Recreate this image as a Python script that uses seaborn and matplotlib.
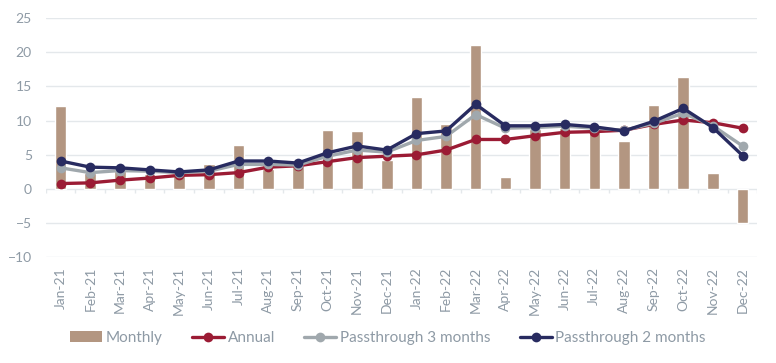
import numpy as np
import pandas as pd
import seaborn as sns
import matplotlib.pyplot as plt
from matplotlib.patches import Patch
from matplotlib.lines import Line2D

# Chart data
months = ["Jan-21", "Feb-21", "Mar-21", "Apr-21", "May-21", "Jun-21",
          "Jul-21", "Aug-21", "Sep-21", "Oct-21", "Nov-21", "Dec-21",
          "Jan-22", "Feb-22", "Mar-22", "Apr-22", "May-22", "Jun-22",
          "Jul-22", "Aug-22", "Sep-22", "Oct-22", "Nov-22", "Dec-22"]
monthly = [12.2, 2.3, 2.7, 2.2, 2.1, 3.6, 6.5, 3.0, 3.3, 8.7, 8.5, 4.3,
           13.4, 9.5, 21.1, 1.8, 8.8, 9.0, 8.6, 7.0, 12.3, 16.4, 2.3, -5.0]
annual = [0.8, 0.9, 1.3, 1.6, 2.0, 2.1, 2.4, 3.2, 3.4, 4.0, 4.6, 4.8,
          5.0, 5.7, 7.25, 7.25, 7.8, 8.3, 8.4, 8.6, 9.45, 10.1, 9.7, 8.9]
pass3 = [3.1, 2.4, 2.7, 2.6, 2.4, 2.6, 3.6, 3.6, 3.5, 4.8, 5.7, 5.4,
         7.1, 7.7, 10.9, 8.9, 9.0, 9.2, 8.9, 8.6, 9.6, 11.1, 9.25, 6.3]
pass2 = [4.1, 3.2, 3.1, 2.8, 2.5, 2.8, 4.1, 4.1, 3.8, 5.3, 6.3, 5.7,
         8.1, 8.5, 12.4, 9.25, 9.25, 9.45, 9.1, 8.5, 9.9, 11.8, 9.0, 4.9]
y_ticks = [-10, -5, 0, 5, 10, 15, 20, 25]

BAR_COLOR = "#b39681"
RED = "#9b1b34"
GREY = "#a0a8ad"
NAVY = "#282b60"
TEXT = "#8e9aa5"
GRID = "#e4e8eb"

sns.set_theme(style="white")
plt.rcParams["font.family"] = ["Lato", "DejaVu Sans"]

df = pd.DataFrame({"month": months, "monthly": monthly, "annual": annual,
                   "pass3": pass3, "pass2": pass2})
df["pos"] = np.arange(len(df))

fig = plt.figure(figsize=(7.76, 3.63), dpi=100)
ax = fig.add_axes([0.059, 0.291, 0.917, 0.659])

sns.barplot(data=df, x="month", y="monthly", color=BAR_COLOR, width=0.39,
            saturation=1, ax=ax, zorder=2)

for col, c in [("annual", RED), ("pass3", GREY), ("pass2", NAVY)]:
    sns.lineplot(data=df, x="pos", y=col, color=c, linewidth=2.4,
                 marker="o", markersize=7, markeredgewidth=0, ax=ax,
                 zorder=3)

ax.set_ylim(-10, 25)
ax.set_xlim(-0.5, len(months) - 0.5)
ax.set_yticks(y_ticks)
ax.set_xticks(range(len(months)))
ax.set_xticklabels(months, rotation=90)
ax.set_xlabel("")
ax.set_ylabel("")
ax.yaxis.grid(True, color=GRID, linewidth=1)
ax.set_axisbelow(True)
for s in ax.spines.values():
    s.set_visible(False)
ax.tick_params(axis="both", length=0, colors=TEXT, labelsize=10)
ax.tick_params(axis="y", pad=10)
ax.tick_params(axis="x", pad=7)

# small category separators hanging under the zero line
bounds = np.arange(len(months) + 1) - 0.5
ax.vlines(bounds, -0.6, 0, color=GRID, linewidth=1, zorder=1)

handles = [
    Patch(facecolor=BAR_COLOR, edgecolor="none"),
    Line2D([], [], color=RED, linewidth=2.4, marker="o", markersize=7, markeredgewidth=0),
    Line2D([], [], color=GREY, linewidth=2.4, marker="o", markersize=7, markeredgewidth=0),
    Line2D([], [], color=NAVY, linewidth=2.4, marker="o", markersize=7, markeredgewidth=0),
]
labels = ["Monthly", "Annual", "Passthrough 3 months", "Passthrough 2 months"]
leg = fig.legend(handles, labels, loc="center", bbox_to_anchor=(0.5, 0.069),
                 ncol=4, frameon=False, fontsize=11, handlelength=2.1,
                 handletextpad=0.25, columnspacing=1.9)
for t in leg.get_texts():
    t.set_color(TEXT)

fig.savefig("out.png", dpi=100)
